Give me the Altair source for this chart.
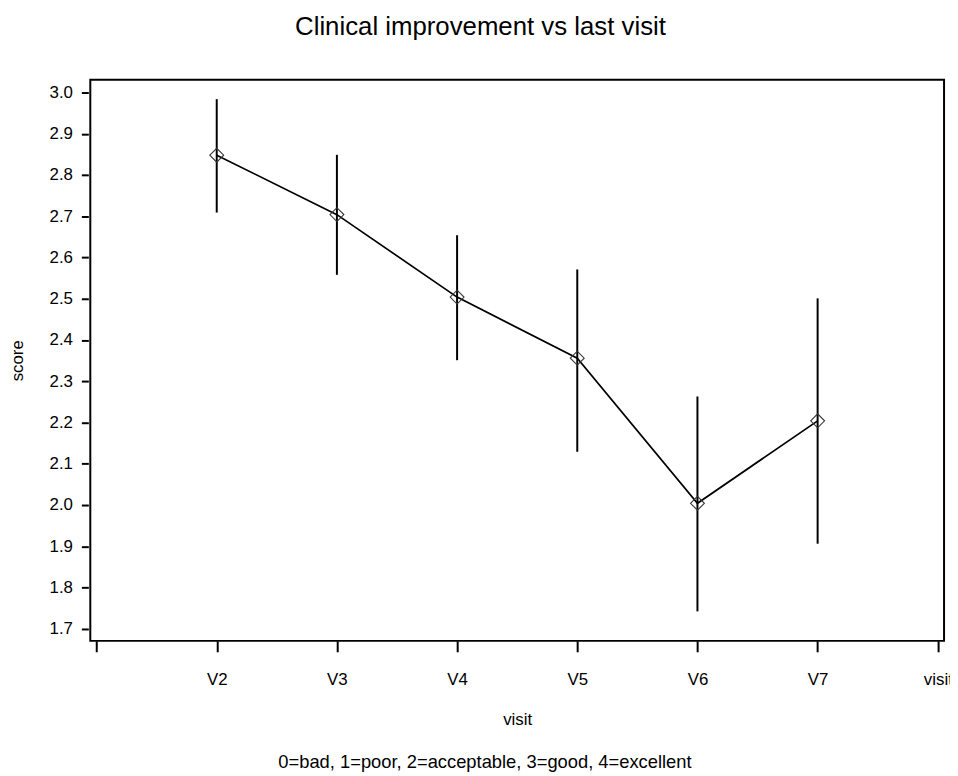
import altair as alt
import pandas as pd

# ---- data ----
visits = ["V2", "V3", "V4", "V5", "V6", "V7"]
means = [2.848, 2.704, 2.504, 2.356, 2.004, 2.204]
lower = [2.709, 2.558, 2.351, 2.129, 1.742, 1.906]
upper = [2.984, 2.849, 2.654, 2.571, 2.263, 2.501]
x_tick_labels = ["", "V2", "V3", "V4", "V5", "V6", "V7", "visit"]
y_tick_values = [1.7, 1.8, 1.9, 2.0, 2.1, 2.2, 2.3, 2.4, 2.5, 2.6, 2.7, 2.8, 2.9, 3.0]
title_text = "Clinical improvement vs last visit"
footnote_text = "0=bad, 1=poor, 2=acceptable, 3=good, 4=excellent"

FONT = "Liberation Sans"

df = pd.DataFrame({"visit": visits, "score": means, "lo": lower, "hi": upper})

xscale = alt.Scale(type="point", domain=x_tick_labels, padding=0.052)
yscale = alt.Scale(domain=[1.6704, 3.0313], nice=False, zero=False)

x_axis = alt.Axis(
    title="visit", titleFont=FONT, titleFontSize=17, titleFontWeight="normal",
    titleColor="black", titleY=84, titleBaseline="alphabetic",
    labelAngle=0, labelFont=FONT, labelFontSize=17, labelColor="black",
    labelBaseline="alphabetic", labelPadding=33,
    tickSize=11, tickWidth=2, tickColor="black", domain=False, grid=False,
)
y_axis = alt.Axis(
    values=y_tick_values, format=".1f",
    title="score", titleFont=FONT, titleFontSize=17, titleFontWeight="normal",
    titleColor="black", titleAngle=-90, titleX=-66, titleY=283,
    titleBaseline="alphabetic", titleAlign="center",
    labelFont=FONT, labelFontSize=17, labelColor="black", labelPadding=9,
    offset=2, tickSize=7, tickWidth=2, tickColor="black", domain=False, grid=False,
)

base = alt.Chart(df)
x_enc = alt.X("visit:N", scale=xscale, sort=None, axis=x_axis)

rules = base.mark_rule(color="black", strokeWidth=2).encode(
    x=x_enc,
    y=alt.Y("lo:Q", scale=yscale, axis=y_axis),
    y2="hi:Q",
)
line = base.mark_line(color="black", strokeWidth=1.7).encode(
    x=x_enc, y=alt.Y("score:Q", scale=yscale, axis=y_axis)
)
points = base.mark_point(
    shape="diamond", size=196, filled=False, color="#333333", strokeWidth=1.1, opacity=1
).encode(x=x_enc, y=alt.Y("score:Q", scale=yscale, axis=y_axis))

foot = alt.Chart(pd.DataFrame({"t": [footnote_text]})).mark_text(
    font=FONT, fontSize=18.5, color="black", align="center", baseline="alphabetic"
).encode(text="t:N", x=alt.value(398), y=alt.value(694))

chart = alt.layer(rules, line, points, foot).properties(
    width=861,
    height=566,
    autosize=alt.AutoSizeParams(type="none"),
    padding={"left": 83, "top": 69, "right": 6, "bottom": 131},
    title=alt.TitleParams(
        text=title_text, font=FONT, fontSize=26, fontWeight="normal", color="black",
        anchor="middle", frame="group", baseline="alphabetic", offset=19, dx=-37,
    ),
).configure(
    background="white",
    view=alt.ViewConfig(stroke="black", strokeWidth=2),
)

chart.save("out.html", embed_options={"renderer": "svg", "actions": False})
